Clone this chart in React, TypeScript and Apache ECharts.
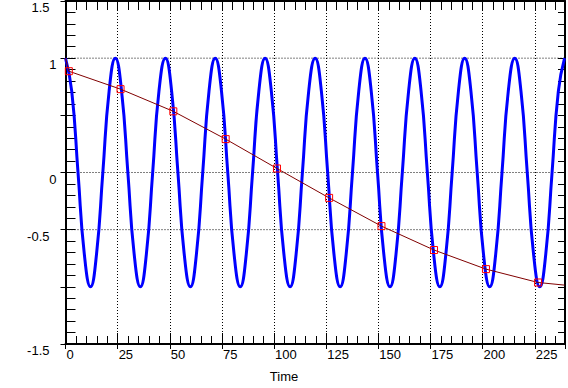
import React, { useEffect, useRef } from 'react';
import * as echarts from 'echarts';

const X_MIN = 0;
const X_MAX = 239.5;
const Y_MIN = -1.5;
const Y_MAX = 1.5;

const xTickLabels = ['0', '25', '50', '75', '100', '125', '150', '175', '200', '225'];
const yTickLabels = ['1.5', '1', '0', '-0.5', '-1.5'];
const gridYValues = [1, 0, -0.5];
const xAxisTitle = 'Time';

// blue oscillating signal (peak, 0.71, 0, -0.71, trough, ...)
const blueWave: [number, number][] = [
  [0, 1], [3.0, 0.71], [6.0, 0], [9.0, -0.71], [12.0, -1], [14.9, -0.71], [17.9, 0], [20.9, 0.71],
  [23.9, 1], [26.9, 0.71], [29.9, 0], [32.9, -0.71], [35.9, -1], [38.8, -0.71], [41.8, 0], [44.8, 0.71],
  [47.9, 1], [50.9, 0.71], [53.9, 0], [56.9, -0.71], [59.9, -1], [62.8, -0.71], [65.8, 0], [68.8, 0.71],
  [71.8, 1], [74.8, 0.71], [77.8, 0], [80.8, -0.71], [83.8, -1], [86.7, -0.71], [89.7, 0], [92.7, 0.71],
  [95.7, 1], [98.7, 0.71], [101.7, 0], [104.7, -0.71], [107.7, -1], [110.6, -0.71], [113.6, 0], [116.6, 0.71],
  [119.7, 1], [122.7, 0.71], [125.7, 0], [128.7, -0.71], [131.7, -1], [134.6, -0.71], [137.6, 0], [140.6, 0.71],
  [143.6, 1], [146.6, 0.71], [149.6, 0], [152.6, -0.71], [155.6, -1], [158.5, -0.71], [161.5, 0], [164.5, 0.71],
  [167.5, 1], [170.5, 0.71], [173.5, 0], [176.5, -0.71], [179.5, -1], [182.4, -0.71], [185.4, 0], [188.4, 0.71],
  [191.4, 1], [194.4, 0.71], [197.4, 0], [200.4, -0.71], [203.4, -1], [206.3, -0.71], [209.3, 0], [212.3, 0.71],
  [215.4, 1], [218.4, 0.71], [221.4, 0], [224.4, -0.71], [227.4, -1], [230.3, -0.71], [233.3, 0], [236.3, 0.71],
  [239.3, 1],
];

// dark red slowly decaying curve with square markers
const redStart: [number, number] = [0, 1.0];
const redMarked: [number, number][] = [
  [1.6, 0.886], [26.4, 0.729], [51.7, 0.535], [76.8, 0.292], [101.4, 0.035],
  [126.4, -0.222], [151.5, -0.469], [176.7, -0.678], [201.6, -0.845], [226.6, -0.962],
];
const redEnd: [number, number] = [239.3, -0.985];

const FONT = "'Liberation Sans Narrow', 'Liberation Sans', Arial, sans-serif";
const FS = 13;

export default function App() {
  const ref = useRef<HTMLDivElement>(null);
  useEffect(() => {
    if (!ref.current) return;
    const chart = echarts.init(ref.current, undefined, { renderer: 'svg' });
    const black = '#000000';
    const baseX = { type: 'value', min: X_MIN, max: X_MAX, gridIndex: 0 } as any;
    const baseY = { type: 'value', min: Y_MIN, max: Y_MAX, gridIndex: 0 } as any;

    const redData: any[] = [
      { value: redStart, symbol: 'none' },
      ...redMarked.map((p) => ({ value: p })),
      { value: redEnd, symbol: 'none' },
    ];

    const gridSeries = gridYValues.map((y) => ({
      type: 'line',
      silent: true,
      symbol: 'none',
      xAxisIndex: 0,
      yAxisIndex: 0,
      data: [[X_MIN, y], [X_MAX, y]],
      lineStyle: { color: black, width: 1, type: [1, 2] },
      z: 1,
    }));

    chart.setOption({
      animation: false,
      backgroundColor: '#ffffff',
      grid: { left: 65.5, right: 0.5, top: 1, bottom: 44, containLabel: false },
      xAxis: [
        {
          ...baseX,
          position: 'bottom',
          interval: 25,
          axisLine: { show: true, onZero: false, lineStyle: { color: black, width: 2 } },
          axisTick: { show: true, inside: true, length: 11, lineStyle: { color: black, width: 1 } },
          axisLabel: {
            show: true,
            color: black,
            fontFamily: FONT,
            fontSize: FS,
            align: 'left',
            margin: 4,
            padding: [0, 0, 0, 1],
            formatter: (v: number) => (xTickLabels.includes(String(v)) ? String(v) : ''),
          },
          splitLine: { show: true, lineStyle: { color: black, width: 1, type: [1, 2] } },
        },
        {
          ...baseX,
          position: 'bottom',
          interval: 5,
          axisLine: { show: false, onZero: false },
          axisTick: { show: true, inside: true, length: 8, lineStyle: { color: black, width: 1 } },
          axisLabel: { show: false },
          splitLine: { show: false },
        },
        {
          ...baseX,
          position: 'bottom',
          interval: 25,
          axisLine: { show: false, onZero: false },
          axisTick: { show: true, inside: false, length: 5, lineStyle: { color: black, width: 1 } },
          axisLabel: { show: false },
          splitLine: { show: false },
        },
        {
          ...baseX,
          position: 'top',
          interval: 5,
          axisLine: { show: true, onZero: false, lineStyle: { color: black, width: 2 } },
          axisTick: { show: true, inside: true, length: 9, lineStyle: { color: black, width: 1 } },
          axisLabel: { show: false },
          splitLine: { show: false },
        },
      ],
      yAxis: [
        {
          ...baseY,
          position: 'left',
          interval: 0.5,
          axisLine: { show: true, onZero: false, lineStyle: { color: black, width: 2 } },
          axisTick: { show: true, inside: true, length: 10, lineStyle: { color: black, width: 1 } },
          minorTick: { show: true, splitNumber: 5, length: 10, lineStyle: { color: black, width: 1 } },
          axisLabel: {
            show: true,
            color: black,
            fontFamily: FONT,
            fontSize: FS,
            margin: 9,
            verticalAlign: 'top',
            formatter: (v: number) => {
              const s = String(Math.round(v * 100) / 100);
              if (!yTickLabels.includes(s)) return '';
              return s.includes('.') ? `{d|${s}}` : `{i|${s}}`;
            },
            rich: {
              d: { fontFamily: FONT, fontSize: FS, color: black, padding: [0, 7, 0, 0] },
              i: { fontFamily: FONT, fontSize: FS, color: black },
            },
          },
          splitLine: { show: false },
        },
        {
          ...baseY,
          position: 'left',
          interval: 0.5,
          axisLine: { show: false, onZero: false },
          axisTick: { show: true, inside: false, length: 5, lineStyle: { color: black, width: 1 } },
          axisLabel: { show: false },
          splitLine: { show: false },
        },
        {
          ...baseY,
          position: 'right',
          interval: 0.1,
          axisLine: { show: true, onZero: false, lineStyle: { color: black, width: 2 } },
          axisTick: { show: true, inside: true, length: 7, lineStyle: { color: black, width: 1 } },
          axisLabel: { show: false },
          splitLine: { show: false },
        },
      ],
      series: [
        ...gridSeries,
        {
          type: 'line',
          name: 'signal',
          xAxisIndex: 0,
          yAxisIndex: 0,
          data: blueWave,
          smooth: 0.5,
          symbol: 'none',
          lineStyle: { color: '#0000ff', width: 3 },
          z: 3,
        },
        {
          type: 'line',
          name: 'trend',
          xAxisIndex: 0,
          yAxisIndex: 0,
          data: redData,
          smooth: false,
          symbol: 'rect',
          symbolSize: 7,
          showAllSymbol: true,
          itemStyle: { color: 'transparent', borderColor: '#ff0000', borderWidth: 1 },
          lineStyle: { color: '#800000', width: 1 },
          z: 4,
        },
      ],
      graphic: [
        {
          type: 'text',
          x: 284,
          y: 370,
          style: {
            text: xAxisTitle,
            align: 'center',
            verticalAlign: 'top',
            fontFamily: FONT,
            fontSize: FS,
            fill: black,
          },
        },
      ],
    });
    return () => chart.dispose();
  }, []);
  return (
    <div
      ref={ref}
      style={{ position: 'fixed', left: 0, top: 0, width: 568, height: 388, background: '#fff' }}
    />
  );
}
